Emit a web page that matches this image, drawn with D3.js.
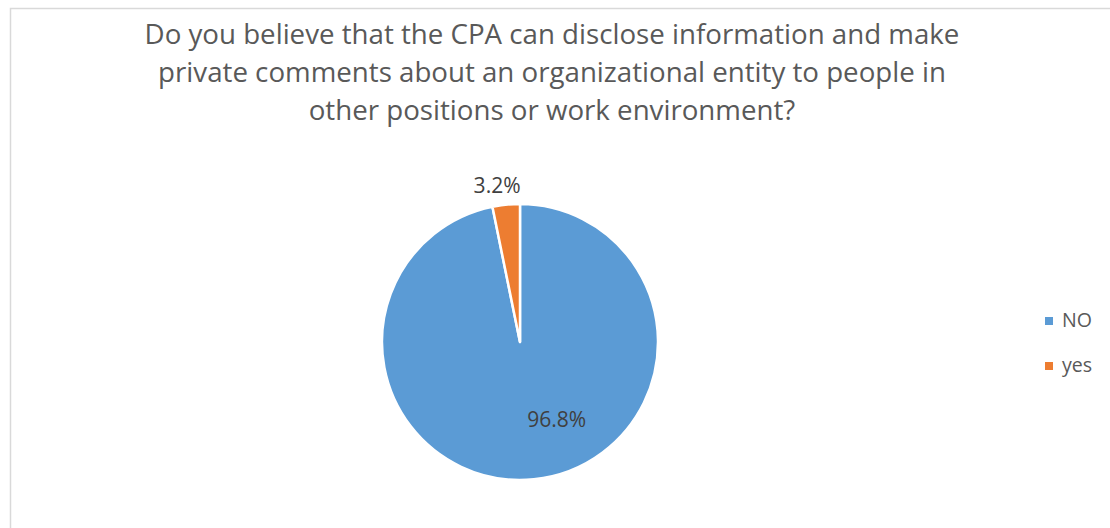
<!DOCTYPE html>
<html><head><meta charset="utf-8">
<script src="https://cdn.jsdelivr.net/npm/d3@7"></script>
<style>html,body{margin:0;padding:0;background:#fff;overflow:hidden}</style>
</head><body>
<svg id="chart" width="1110" height="528"></svg>
<script>
const categories = ["NO", "yes"];
const values = [96.8, 3.2];
const labels = ["96.8%", "3.2%"];
const colors = ["#5B9BD5", "#ED7D31"];
const titleLines = [
  "Do you believe that the CPA can disclose information and make",
  "private comments about an organizational entity to people in",
  "other positions or work environment?"
];

const svg = d3.select("#chart");
const FONT = "'Open Sans', sans-serif";

// chart frame
svg.append("rect").attr("x", 10.5).attr("y", 8.5).attr("width", 1300).attr("height", 1000)
  .attr("fill", "#fff").attr("stroke", "#d9d9d9").attr("stroke-width", 1.5);

// fit text to target width helper
function fit(sel, target) {
  const w = sel.node().getComputedTextLength();
  const fs = parseFloat(sel.attr("font-size"));
  sel.attr("font-size", (fs * target / w).toFixed(2));
}

// title
const title = svg.append("g");
titleLines.forEach((t, i) => {
  title.append("text").attr("x", 552).attr("y", 44 + i * 38)
    .attr("text-anchor", "middle").attr("font-family", FONT).attr("font-size", 26)
    .attr("fill", "#595959").text(t);
});
const t0 = title.select("text");
fit(t0, 815);
const fsTitle = t0.attr("font-size");
title.selectAll("text").attr("font-size", fsTitle);

// pie
const cx = 520, cy = 342, r = 138;
const pie = d3.pie().sort(null).value(d => d)(values);
const arc = d3.arc().innerRadius(0).outerRadius(r);
const g = svg.append("g").attr("transform", `translate(${cx},${cy})`);
g.selectAll("path").data(pie).join("path")
  .attr("d", arc).attr("fill", (d, i) => colors[i])
  .attr("stroke", "#fff").attr("stroke-width", 2.5).attr("stroke-linejoin", "round");

// data labels
const labelArcs = [
  d3.arc().innerRadius(86).outerRadius(86),
  d3.arc().innerRadius(r + 20).outerRadius(r + 20)
];
const labelShift = [-0.34, -0.045]; // angle tweaks (radians) to mimic Excel best-fit placement
pie.forEach((d, i) => {
  const dd = {startAngle: d.startAngle + labelShift[i], endAngle: d.endAngle + labelShift[i]};
  const [x, y] = labelArcs[i].centroid(dd);
  g.append("text").attr("x", x).attr("y", y).attr("dy", "0.35em")
    .attr("text-anchor", "middle").attr("font-family", FONT).attr("font-size", 20)
    .attr("fill", "#404040").text(labels[i]);
});
g.selectAll("text").each(function(d, i) { if (i === 1) fit(d3.select(this), 47); });
const fsLab = g.selectAll("text").filter((d, i) => i === 1).attr("font-size");
g.selectAll("text").attr("font-size", fsLab);

// legend
const legend = svg.append("g").attr("transform", "translate(1045,0)");
const ly = d3.scalePoint().domain(categories).range([327, 372]);
categories.forEach((c, i) => {
  legend.append("rect").attr("x", 0).attr("y", ly(c) - 10).attr("width", 8).attr("height", 8)
    .attr("fill", colors[i]);
  legend.append("text").attr("x", 17).attr("y", ly(c)).attr("font-family", FONT)
    .attr("font-size", 20).attr("fill", "#595959").text(c);
});
fit(legend.select("text"), 30);
legend.selectAll("text").attr("font-size", legend.select("text").attr("font-size"));
</script>
</body></html>
